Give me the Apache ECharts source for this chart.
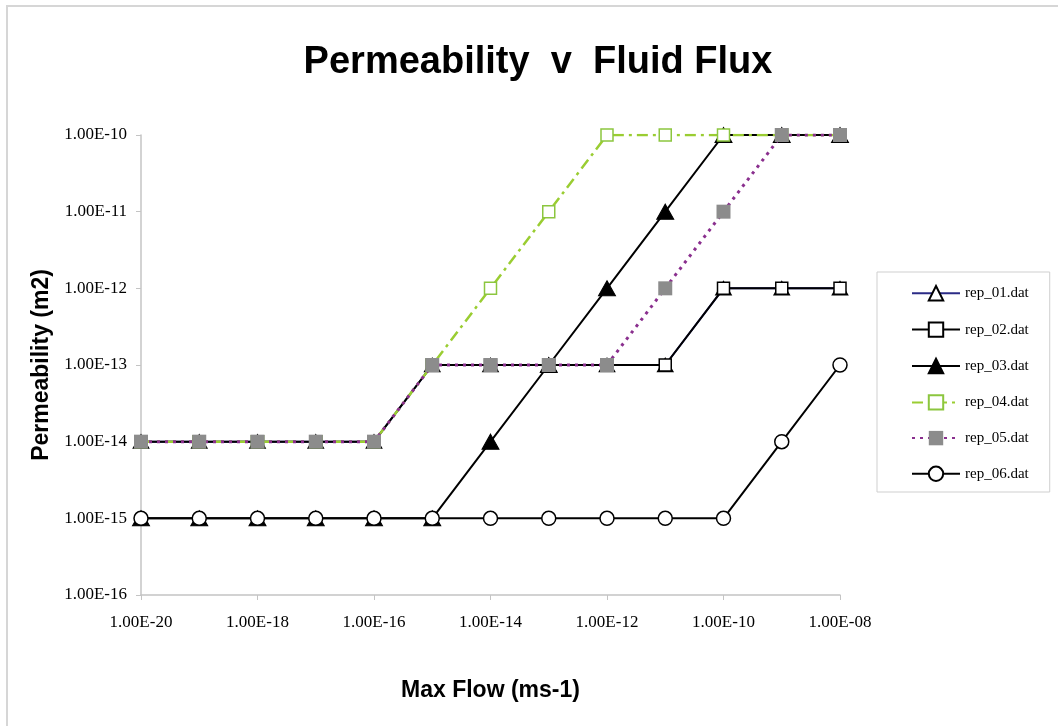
<!DOCTYPE html>
<html>
<head>
<meta charset="utf-8">
<title>Permeability v Fluid Flux</title>
<script src="https://cdn.jsdelivr.net/npm/echarts@6/dist/echarts.min.js"></script>
<style>
  html, body { margin: 0; padding: 0; background: #fff; }
  #chart { width: 1058px; height: 726px; }
</style>
</head>
<body>
<div id="chart"></div>
<script>
// Max flow (m/s) sampled at each decade
const maxFlow = [1e-20, 1e-19, 1e-18, 1e-17, 1e-16, 1e-15, 1e-14, 1e-13, 1e-12, 1e-11, 1e-10, 1e-9, 1e-8];

// Permeability (m2) for each run
const rep01 = [1e-14, 1e-14, 1e-14, 1e-14, 1e-14, 1e-13, 1e-13, 1e-13, 1e-13, 1e-13, 1e-12, 1e-12, 1e-12];
const rep02 = [1e-14, 1e-14, 1e-14, 1e-14, 1e-14, 1e-13, 1e-13, 1e-13, 1e-13, 1e-13, 1e-12, 1e-12, 1e-12];
const rep03 = [1e-15, 1e-15, 1e-15, 1e-15, 1e-15, 1e-15, 1e-14, 1e-13, 1e-12, 1e-11, 1e-10, 1e-10, 1e-10];
const rep04 = [1e-14, 1e-14, 1e-14, 1e-14, 1e-14, 1e-13, 1e-12, 1e-11, 1e-10, 1e-10, 1e-10, 1e-10, 1e-10];
const rep05 = [1e-14, 1e-14, 1e-14, 1e-14, 1e-14, 1e-13, 1e-13, 1e-13, 1e-13, 1e-12, 1e-11, 1e-10, 1e-10];
const rep06 = [1e-15, 1e-15, 1e-15, 1e-15, 1e-15, 1e-15, 1e-15, 1e-15, 1e-15, 1e-15, 1e-15, 1e-14, 1e-13];

const seriesNames = ['rep_01.dat', 'rep_02.dat', 'rep_03.dat', 'rep_04.dat', 'rep_05.dat', 'rep_06.dat'];

const chartTitle = 'Permeability  v  Fluid Flux';
const xAxisTitle = 'Max Flow (ms-1)';
const yAxisTitle = 'Permeability (m2)';

// "1.00E-10" style scientific labels
function sciLabel(v) {
  const parts = Number(v).toExponential(2).split('e');
  const exp = parseInt(parts[1], 10);
  const sign = exp < 0 ? '-' : '+';
  return parts[0] + 'E' + sign + String(Math.abs(exp)).padStart(2, '0');
}

function pairs(ys) {
  return maxFlow.map((x, i) => [x, ys[i]]);
}

const serif = '"Liberation Serif", "Times New Roman", serif';
const sans = '"Liberation Sans", Arial, sans-serif';
const axisGrey = '#c4c4c4';

const styles = [
  { data: rep01, line: { color: '#2b2b86', width: 2, type: 'solid' },
    symbol: 'triangle', size: [15, 13], item: { color: '#ffffff', borderColor: '#000', borderWidth: 1.5 } },
  { data: rep02, line: { color: '#000000', width: 2, type: 'solid' },
    symbol: 'rect', size: 12, item: { color: '#ffffff', borderColor: '#000', borderWidth: 1.5 } },
  { data: rep03, line: { color: '#000000', width: 2, type: 'solid' },
    symbol: 'triangle', size: [17, 15], item: { color: '#000000', borderColor: '#000', borderWidth: 1 } },
  { data: rep04, line: { color: '#9acd32', width: 2.5, type: [11, 5, 3, 5] },
    symbol: 'rect', size: 12, item: { color: '#ffffff', borderColor: '#8cc63f', borderWidth: 1.5 } },
  { data: rep05, line: { color: '#8a2f8e', width: 3, type: [3, 5] },
    symbol: 'rect', size: 14, item: { color: '#8c8c8c', borderColor: '#8c8c8c', borderWidth: 0 } },
  { data: rep06, line: { color: '#000000', width: 2, type: 'solid' },
    symbol: 'circle', size: 14, item: { color: '#ffffff', borderColor: '#000', borderWidth: 1.5 } }
];

const chart = echarts.init(document.getElementById('chart'), null, { renderer: 'canvas' });

chart.setOption({
  backgroundColor: '#ffffff',
  animation: false,
  graphic: [
    {
      type: 'rect',
      shape: { x: 7, y: 6, width: 1070, height: 740 },
      style: { fill: 'none', stroke: '#d6d6d6', lineWidth: 2 },
      silent: true, z: -10
    },
    {
      type: 'text',
      x: 538, y: 63,
      style: {
        text: chartTitle,
        font: 'bold 38px ' + sans,
        fill: '#000',
        textAlign: 'center',
        textVerticalAlign: 'middle'
      }
    }
  ],
  grid: { left: 141, right: 218, top: 135, bottom: 131, containLabel: false },
  legend: {
    orient: 'vertical',
    left: 877,
    top: 272,
    padding: [13, 21, 10, 34],
    itemGap: 20,
    itemWidth: 48,
    itemHeight: 18,
    borderColor: '#cfcfcf',
    borderWidth: 1,
    textStyle: { fontFamily: serif, fontSize: 15, color: '#000' },
    data: seriesNames
  },
  xAxis: {
    type: 'log',
    logBase: 10,
    min: 1e-20,
    max: 1e-8,
    interval: 2,
    name: xAxisTitle,
    nameLocation: 'middle',
    nameGap: 84,
    nameTextStyle: { fontFamily: sans, fontWeight: 'bold', fontSize: 23, color: '#000' },
    axisLine: { lineStyle: { color: axisGrey, width: 1.5 } },
    axisTick: { show: true, length: 5, lineStyle: { color: axisGrey } },
    minorTick: { show: false },
    splitLine: { show: false },
    axisLabel: { formatter: sciLabel, fontFamily: serif, fontSize: 17, color: '#000', margin: 19 }
  },
  yAxis: {
    type: 'log',
    logBase: 10,
    min: 1e-16,
    max: 1e-10,
    interval: 1,
    name: yAxisTitle,
    nameLocation: 'middle',
    nameGap: 86,
    nameRotate: 90,
    nameTextStyle: { fontFamily: sans, fontWeight: 'bold', fontSize: 23, color: '#000' },
    axisLine: { show: true, lineStyle: { color: axisGrey, width: 1.5 } },
    axisTick: { show: true, length: 5, lineStyle: { color: axisGrey } },
    minorTick: { show: false },
    splitLine: { show: false },
    axisLabel: { formatter: sciLabel, fontFamily: serif, fontSize: 17, color: '#000', margin: 14 }
  },
  series: styles.map((s, i) => ({
    name: seriesNames[i],
    type: 'line',
    data: pairs(s.data),
    symbol: s.symbol,
    symbolSize: s.size,
    showAllSymbol: true,
    lineStyle: s.line,
    itemStyle: s.item,
    emphasis: { disabled: true },
    z: 2 + i
  }))
});
</script>
</body>
</html>
